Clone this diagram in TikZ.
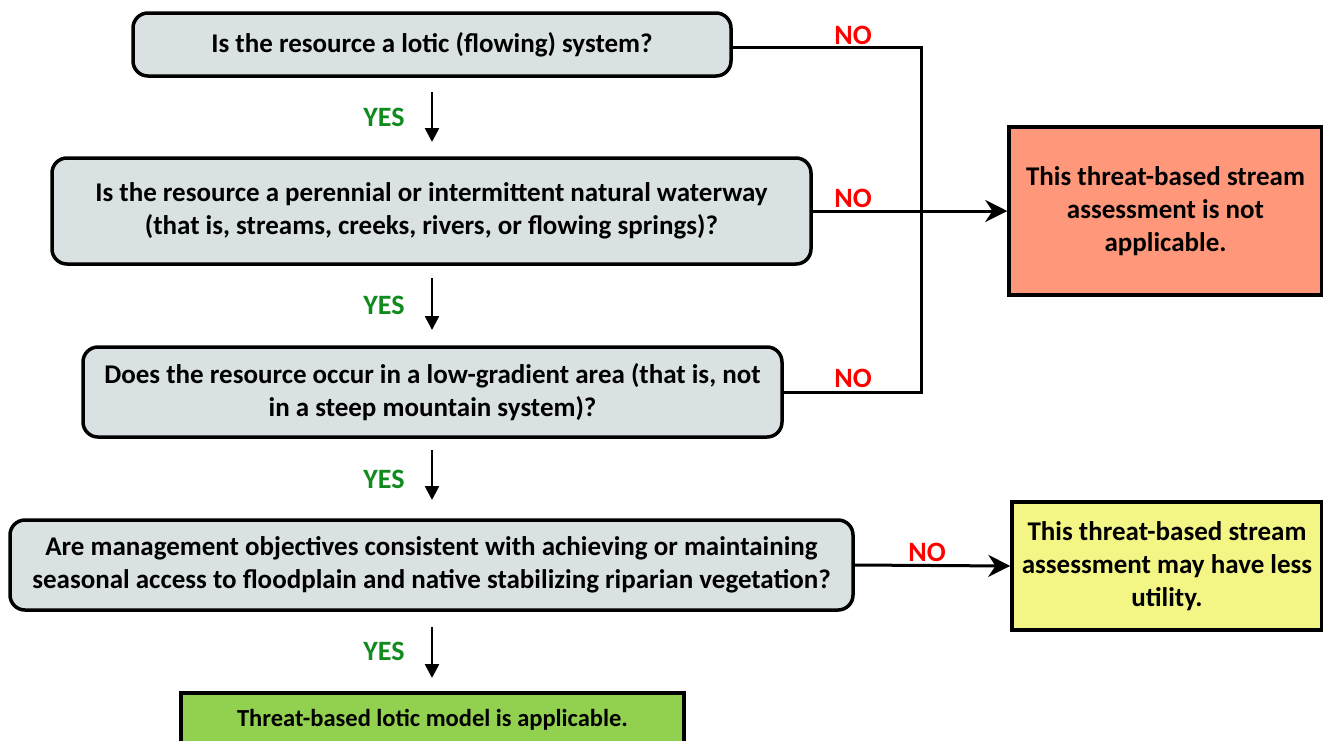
\documentclass[tikz,border=0pt]{standalone}
\usepackage{fontspec}
\setmainfont{Carlito}
\usetikzlibrary{arrows.meta}

\definecolor{qgray}{HTML}{D9E1E2}
\definecolor{nored}{HTML}{FF977A}
\definecolor{noyel}{HTML}{F3F585}
\definecolor{okgreen}{HTML}{92D050}
\definecolor{yesgreen}{HTML}{118A1E}

\tikzset{
  qbox/.style={draw,line width=3.5pt,rounded corners=15pt,fill=qgray,
    align=center,font=\fontsize{27}{33}\selectfont\bfseries,inner sep=0pt},
  endbox/.style={draw,line width=3.5pt,align=center,
    font=\fontsize{27}{33}\selectfont\bfseries,inner sep=0pt},
  yesarr/.style={line width=2.5pt,-{Triangle[length=14pt,width=14pt]}},
  noarr/.style={line width=3pt,-{Stealth[length=22pt,width=22pt]}},
  noline/.style={line width=3pt},
  yeslbl/.style={text=yesgreen,font=\fontsize{28}{30}\selectfont\bfseries},
  nolbl/.style={text=red,font=\fontsize{28}{30}\selectfont\bfseries}
}

\begin{document}
\begin{tikzpicture}[x=1pt,y=-1pt]
  \useasboundingbox (0,0) rectangle (1323,740);
  % questions
  \node[qbox,minimum width=598pt,minimum height=63pt] (q1) at (432,44.5)
    {Is the resource a lotic (flowing) system?};
  \node[qbox,minimum width=759pt,minimum height=106pt] (q2) at (431.5,211)
    {Is the resource a perennial or intermittent natural waterway\\(that is, streams, creeks, rivers, or flowing springs)?};
  \node[qbox,minimum width=699pt,minimum height=90pt] (q3) at (432.5,392)
    {Does the resource occur in a low-gradient area (that is, not\\in a steep mountain system)?};
  \node[qbox,minimum width=843pt,minimum height=90pt] (q4) at (431.5,565)
    {Are management objectives consistent with achieving or maintaining\\seasonal access to floodplain and native stabilizing riparian vegetation?};
  % outcomes
  \node[endbox,fill=nored,minimum width=313pt,minimum height=168pt] (na) at (1165.5,211)
    {This threat-based stream\\assessment is not\\applicable.};
  \node[endbox,fill=noyel,minimum width=310pt,minimum height=128pt] (less) at (1167,566)
    {This threat-based stream\\assessment may have less\\utility.};
  \node[endbox,fill=okgreen,minimum width=503pt,minimum height=54pt,
    font=\fontsize{24.5}{28}\selectfont\bfseries] (ok) at (432.5,720)
    {Threat-based lotic model is applicable.};

  % YES arrows
  \draw[yesarr] (432,92) -- (432,142);
  \node[yeslbl] (y1) at (384,117) {YES};
  \draw[yesarr] (432,278) -- (432,330);
  \node[yeslbl] (y2) at (384,305) {YES};
  \draw[yesarr] (432,450) -- (432,500);
  \node[yeslbl] (y3) at (384,479) {YES};
  \draw[yesarr] (432,627) -- (432,678);
  \node[yeslbl] (y4) at (384,651) {YES};

  % NO branches
  \coordinate (j1) at (921,47);
  \coordinate (j3) at (921,392);
  \draw[noline] (q1.east |- j1) -- (j1) -- (j3) -- (q3.east |- j3);
  \draw[noarr] (q2.east) -- (na.west);
  \draw[noarr] (q4.east) -- (less.west);
  \node[nolbl] (n1) at (853,35) {NO};
  \node[nolbl] (n2) at (853,198) {NO};
  \node[nolbl] (n3) at (853,378) {NO};
  \node[nolbl] (n4) at (927,552) {NO};
\end{tikzpicture}
\end{document}
